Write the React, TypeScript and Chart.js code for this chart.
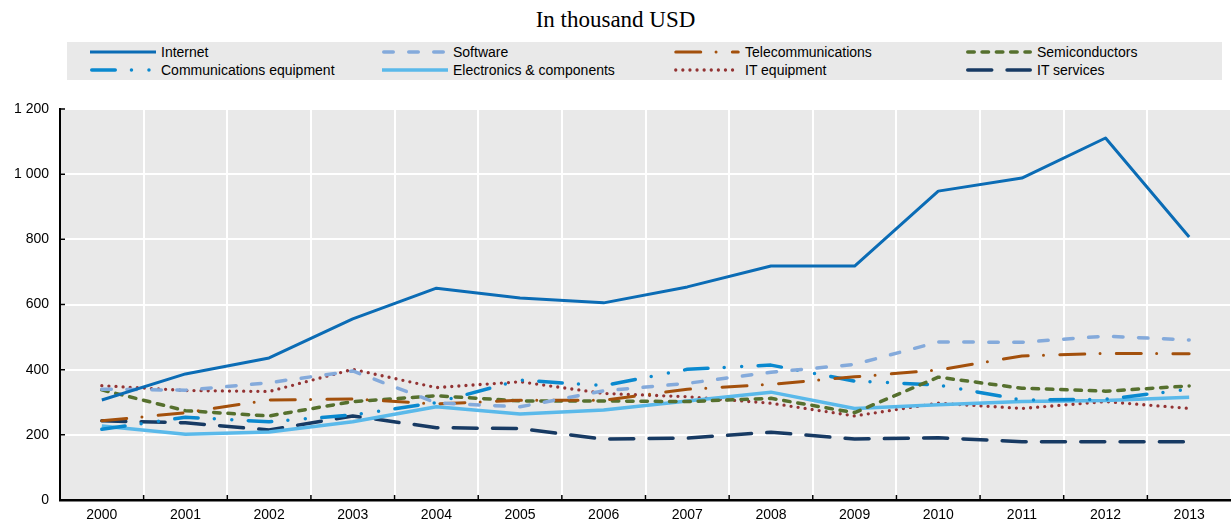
import React, { useEffect, useRef } from "react";
import { Chart, registerables } from "chart.js";

Chart.register(...registerables);

const years = ["2000", "2001", "2002", "2003", "2004", "2005", "2006", "2007", "2008", "2009", "2010", "2011", "2012", "2013"];

const internet = [307, 387, 436, 556, 650, 620, 605, 654, 718, 718, 948, 988, 1111, 807];
const software = [340, 337, 360, 396, 298, 286, 335, 358, 392, 416, 485, 484, 503, 491];
const telecommunications = [243, 268, 307, 310, 295, 306, 306, 340, 355, 378, 399, 442, 450, 449];
const semiconductors = [338, 274, 258, 302, 320, 304, 304, 302, 312, 268, 377, 343, 334, 350];
const communicationsEquipment = [217, 254, 240, 261, 299, 368, 351, 401, 414, 365, 353, 307, 309, 340];
const electronics = [227, 202, 209, 240, 286, 264, 276, 304, 331, 281, 292, 302, 305, 315];
const itEquipment = [351, 336, 333, 401, 345, 363, 327, 317, 297, 258, 297, 281, 302, 281];
const itServices = [243, 237, 215, 258, 222, 219, 187, 190, 208, 187, 191, 179, 179, 179];

const yTicks = [0, 200, 400, 600, 800, 1000, 1200];

const title = "In thousand USD";

type Series = {
  label: string;
  data: number[];
  color: string;
  width: number;
  dash: number[];
  cap: "butt" | "round";
};

const series: Series[] = [
  { label: "Internet", data: internet, color: "#0b6cb5", width: 3, dash: [], cap: "butt" },
  { label: "Software", data: software, color: "#84aadb", width: 3.5, dash: [9.5, 15.5], cap: "round" },
  { label: "Telecommunications", data: telecommunications, color: "#a3500c", width: 3, dash: [25, 15.3, 0, 16.3], cap: "round" },
  { label: "Semiconductors", data: semiconductors, color: "#56702e", width: 3.5, dash: [6.5, 7.8], cap: "round" },
  { label: "Communications equipment", data: communicationsEquipment, color: "#0a89cf", width: 3.5, dash: [23.5, 16.2, 0, 17.5, 0, 16.5], cap: "round" },
  { label: "Electronics & components", data: electronics, color: "#5ab9ea", width: 3.5, dash: [], cap: "butt" },
  { label: "IT equipment", data: itEquipment, color: "#933333", width: 3.3, dash: [0, 7.1], cap: "round" },
  { label: "IT services", data: itServices, color: "#173a63", width: 3.5, dash: [24, 15.3], cap: "round" },
];

const legendCols = [90, 382, 674, 966];
const legendRows = [51.7, 70.3];

const FONT = '"Liberation Sans", Arial, sans-serif';

function formatTick(v: number): string {
  if (v >= 1000) {
    const th = Math.floor(v / 1000);
    const rest = String(v % 1000).padStart(3, "0");
    return `${th} ${rest}`;
  }
  return String(v);
}

const bgPlugin = {
  id: "plotBg",
  beforeDraw(chart: any) {
    const { ctx, chartArea } = chart;
    if (!chartArea) return;
    ctx.save();
    ctx.fillStyle = "#e9e9e9";
    ctx.fillRect(chartArea.left, chartArea.top, chartArea.right - chartArea.left, chartArea.bottom - chartArea.top);
    ctx.restore();
  },
};

const tickMarkPlugin = {
  id: "innerTicks",
  afterDraw(chart: any) {
    const { ctx, chartArea, scales } = chart;
    const xs = scales.x;
    const ys = scales.y;
    ctx.save();
    ctx.strokeStyle = "#000";
    ctx.lineWidth = 1.5;
    ctx.beginPath();
    yTicks.forEach((v) => {
      const y = ys.getPixelForValue(v);
      ctx.moveTo(chartArea.left, y);
      ctx.lineTo(chartArea.left + 5, y);
    });
    for (let i = 1; i < years.length; i++) {
      const x = (xs.getPixelForValue(i - 1) + xs.getPixelForValue(i)) / 2;
      ctx.moveTo(x, chartArea.bottom);
      ctx.lineTo(x, chartArea.bottom - 5);
    }
    ctx.stroke();
    ctx.restore();
  },
};

function LegendItem({ s, x, y }: { s: Series; x: number; y: number }) {
  const lw = 66;
  return (
    <div style={{ position: "absolute", left: x, top: y - 9, height: 18, display: "flex", alignItems: "center", whiteSpace: "nowrap" }}>
      <svg width={lw} height={8} style={{ display: "block" }}>
        <line
          x1={s.cap === "round" ? 1.75 : 0}
          y1={4}
          x2={s.cap === "round" ? lw - 1.75 : lw}
          y2={4}
          stroke={s.color}
          strokeWidth={s.width}
          strokeLinecap={s.cap}
          strokeDasharray={s.dash.length ? s.dash.join(" ") : undefined}
        />
      </svg>
      <span style={{ marginLeft: 5, fontFamily: FONT, fontSize: 14, color: "#000", lineHeight: "18px" }}>{s.label}</span>
    </div>
  );
}

export default function App() {
  const canvasRef = useRef<HTMLCanvasElement | null>(null);

  useEffect(() => {
    if (!canvasRef.current) return;
    const chart = new Chart(canvasRef.current, {
      type: "line",
      data: {
        labels: years,
        datasets: series.map((s) => ({
          label: s.label,
          data: s.data,
          borderColor: s.color,
          backgroundColor: s.color,
          borderWidth: s.width,
          borderDash: s.dash,
          borderCapStyle: s.cap,
          borderJoinStyle: "round",
          pointRadius: 0,
          pointHoverRadius: 0,
          tension: 0,
          fill: false,
        })),
      },
      options: {
        animation: false,
        responsive: false,
        devicePixelRatio: 1,
        layout: { padding: { top: 109, left: 0, right: 0, bottom: 0 } },
        plugins: {
          legend: { display: false },
          title: { display: false },
          tooltip: { enabled: false },
        },
        scales: {
          x: {
            type: "category",
            offset: true,
            grid: { offset: true, color: "#ffffff", lineWidth: 2, drawTicks: false },
            border: { display: true, color: "#000", width: 2.5 },
            ticks: { color: "#000", font: { family: FONT, size: 14 }, padding: 7, maxRotation: 0, autoSkip: false },
            afterFit(scale: any) {
              scale.height = 23;
            },
          },
          y: {
            min: 0,
            max: 1200,
            afterBuildTicks(scale: any) {
              scale.ticks = yTicks.map((v) => ({ value: v }));
            },
            grid: { color: "#ffffff", lineWidth: 2, drawTicks: false },
            border: { display: true, color: "#000", width: 2 },
            ticks: {
              color: "#000",
              font: { family: FONT, size: 14 },
              padding: 11,
              callback: (v: any) => formatTick(Number(v)),
            },
            afterFit(scale: any) {
              scale.width = 60;
            },
          },
        },
      },
      plugins: [bgPlugin, tickMarkPlugin],
    } as any);
    return () => chart.destroy();
  }, []);

  return (
    <div style={{ position: "fixed", left: 0, top: 0, width: 1231, height: 523, background: "#fff", overflow: "hidden" }}>
      <div
        style={{
          position: "absolute",
          left: 0,
          top: 7.5,
          width: 1231,
          textAlign: "center",
          fontFamily: '"Liberation Serif", "Times New Roman", serif',
          fontSize: 23,
          lineHeight: "23px",
          color: "#000",
        }}
      >
        {title}
      </div>
      <div style={{ position: "absolute", left: 67, top: 42, width: 1155, height: 38, background: "#e9e9e9" }} />
      {series.map((s, i) => (
        <LegendItem key={s.label} s={s} x={legendCols[i % 4]} y={legendRows[Math.floor(i / 4)]} />
      ))}
      <canvas ref={canvasRef} width={1231} height={523} style={{ position: "absolute", left: 0, top: 0, display: "block" }} />
    </div>
  );
}
